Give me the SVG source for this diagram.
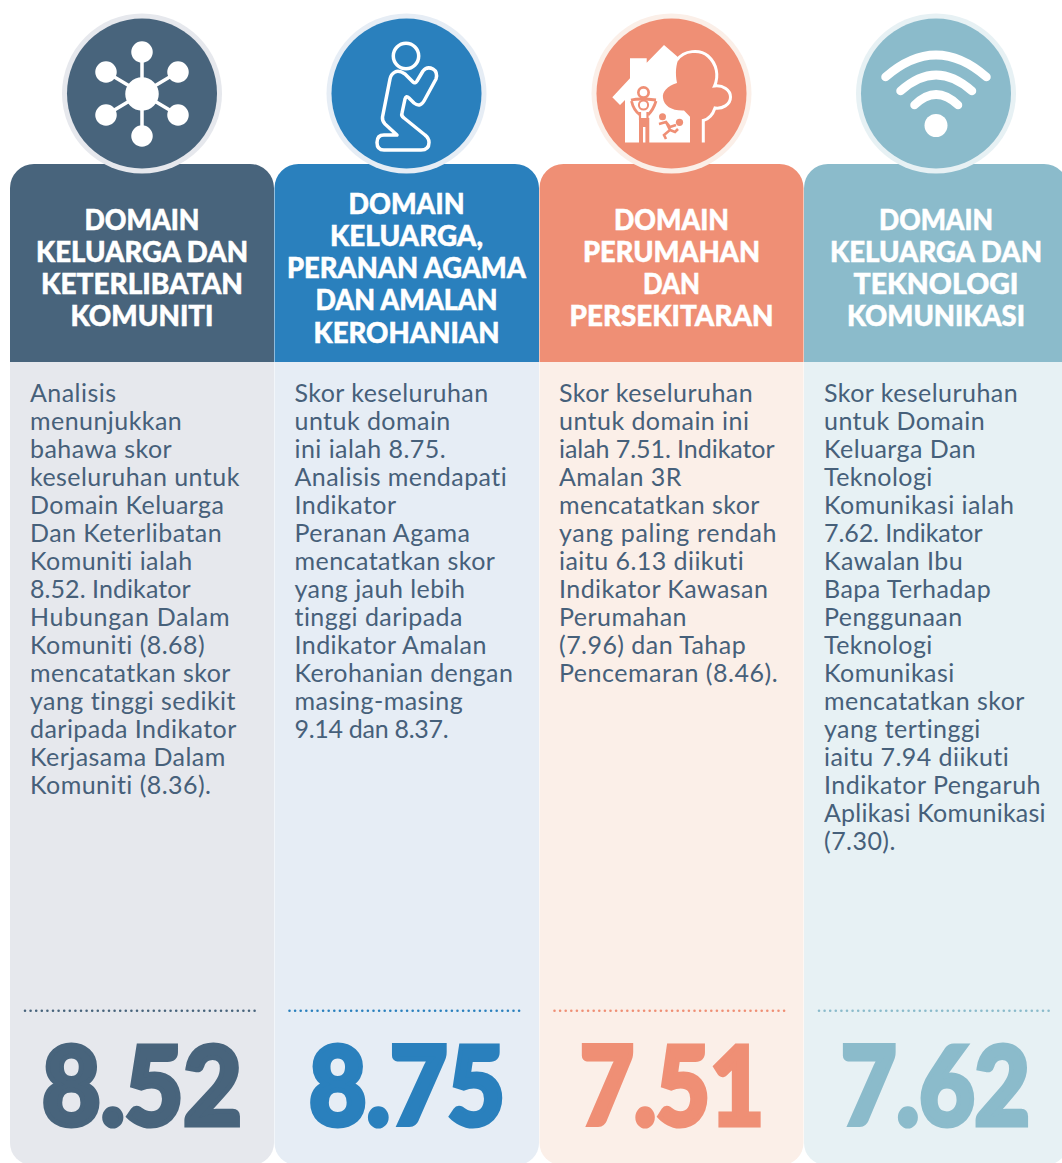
<svg xmlns="http://www.w3.org/2000/svg" width="1062" height="1163" viewBox="0 0 1062 1163">
<style>
.t{font-family:"Lato Black","Lato","Liberation Sans",sans-serif;font-weight:900;font-size:28px;fill:#fff;stroke:#fff;stroke-width:.5;text-anchor:middle}
.b{font-family:"Lato","Liberation Sans",sans-serif;font-weight:400;font-size:25px;letter-spacing:.45px;fill:#46607a}
.n{font-family:"Lato Black","Lato","Liberation Sans",sans-serif;font-weight:900;font-size:108px;stroke-width:5;stroke-linejoin:miter}
.d{fill:none;stroke-width:2.6;stroke-linecap:round;stroke-dasharray:0 5.6}
.w{fill:none;stroke:#fff;stroke-linecap:round}
</style>
<rect width="1062" height="1163" fill="#fff"/>
<g id="col1">
<rect x="10" y="300" width="264" height="865" rx="22" fill="#e6e8ed"/>
<path d="M10 362V188a24 24 0 0 1 24-24H250a24 24 0 0 1 24 24V362Z" fill="#48647c"/>
<circle cx="142" cy="93.500" r="80" fill="#e6e8ed"/><circle cx="142" cy="93.500" r="75" fill="#48647c"/>
<g fill="#fff" stroke="#fff" stroke-width="3.500">
<path d="M142 52V136M106 72L178 115M178 72L106 115" fill="none"/>
<circle cx="142" cy="94" r="15"/><circle cx="142" cy="52" r="9"/><circle cx="142" cy="136" r="9"/><circle cx="106" cy="72" r="9"/><circle cx="178" cy="72" r="9"/><circle cx="106" cy="115" r="9"/><circle cx="178" cy="115" r="9"/>
</g>
<text class="t" x="142" y="230" textLength="115" lengthAdjust="spacingAndGlyphs">DOMAIN</text>
<text class="t" x="142" y="262" textLength="212" lengthAdjust="spacingAndGlyphs">KELUARGA DAN</text>
<text class="t" x="142" y="294" textLength="202" lengthAdjust="spacingAndGlyphs">KETERLIBATAN</text>
<text class="t" x="142" y="326" textLength="143" lengthAdjust="spacingAndGlyphs">KOMUNITI</text>
<text class="b" x="30" y="402">Analisis</text><text class="b" x="30" y="430">menunjukkan</text><text class="b" x="30" y="458">bahawa skor</text><text class="b" x="30" y="486">keseluruhan untuk</text><text class="b" x="30" y="514">Domain Keluarga</text><text class="b" x="30" y="542">Dan Keterlibatan</text><text class="b" x="30" y="570">Komuniti ialah</text><text class="b" x="30" y="598" textLength="161">8.52. Indikator</text><text class="b" x="30" y="626" textLength="200">Hubungan Dalam</text><text class="b" x="30" y="654">Komuniti (8.68)</text><text class="b" x="30" y="682">mencatatkan skor</text><text class="b" x="30" y="710">yang tinggi sedikit</text><text class="b" x="30" y="738">daripada Indikator</text><text class="b" x="30" y="766">Kerjasama Dalam</text><text class="b" x="30" y="794">Komuniti (8.36).</text>
<path class="d" stroke="#48647c" d="M25 1010.700H257.500"/>
<text class="n" x="42" y="1125" fill="#48647c" stroke="#48647c" textLength="200" lengthAdjust="spacingAndGlyphs">8.52</text>
</g>
<g id="col2">
<rect x="274.500" y="300" width="264.500" height="865" rx="22" fill="#e6edf5"/>
<path d="M274.500 362V188a24 24 0 0 1 24-24H515a24 24 0 0 1 24 24V362Z" fill="#2a80bd"/>
<circle cx="406.500" cy="93.500" r="80" fill="#e6edf5"/><circle cx="406.500" cy="93.500" r="75" fill="#2a80bd"/>
<g class="w" stroke-width="3.500" stroke-linejoin="round">
<circle cx="406" cy="56" r="12.700"/>
<path d="M405 74Q399 70 395 72Q391 74 390 79L382.500 117Q382 121 385 124L397 135H384Q377 135 377 142.500Q377 150 384 150H421Q429 150 429 142.500Q429 138 425 135L404 118Q401 116 402 113L405 99Q406 95 409 98L414 103Q420 108 424 101L436 79Q438 72 433 69Q427 66 423 71L417 81Q415 84 413 82Z"/>
</g>
<text class="t" x="406.500" y="214" textLength="116" lengthAdjust="spacingAndGlyphs">DOMAIN</text>
<text class="t" x="406.500" y="246" textLength="153" lengthAdjust="spacingAndGlyphs">KELUARGA,</text>
<text class="t" x="406.500" y="278" textLength="239" lengthAdjust="spacingAndGlyphs">PERANAN AGAMA</text>
<text class="t" x="406.500" y="310" textLength="182" lengthAdjust="spacingAndGlyphs">DAN AMALAN</text>
<text class="t" x="406.500" y="343" textLength="186" lengthAdjust="spacingAndGlyphs">KEROHANIAN</text>
<text class="b" x="294.500" y="402">Skor keseluruhan</text><text class="b" x="294.500" y="430">untuk domain</text><text class="b" x="294.500" y="458">ini ialah 8.75.</text><text class="b" x="294.500" y="486">Analisis mendapati</text><text class="b" x="294.500" y="514">Indikator</text><text class="b" x="294.500" y="542">Peranan Agama</text><text class="b" x="294.500" y="570">mencatatkan skor</text><text class="b" x="294.500" y="598">yang jauh lebih</text><text class="b" x="294.500" y="626">tinggi daripada</text><text class="b" x="294.500" y="654">Indikator Amalan</text><text class="b" x="294.500" y="682">Kerohanian dengan</text><text class="b" x="294.500" y="710">masing-masing</text><text class="b" x="294.500" y="738" textLength="154.500">9.14 dan 8.37.</text>
<path class="d" stroke="#2a80bd" d="M289.500 1010.700H522"/>
<text class="n" x="309" y="1125" fill="#2a80bd" stroke="#2a80bd" textLength="196" lengthAdjust="spacingAndGlyphs">8.75</text>
</g>
<g id="col3">
<rect x="539.500" y="300" width="264" height="865" rx="22" fill="#fbefe8"/>
<path d="M539.500 362V188a24 24 0 0 1 24-24H779.500a24 24 0 0 1 24 24V362Z" fill="#ef8f75"/>
<circle cx="671.500" cy="93.500" r="80" fill="#fbefe8"/><circle cx="671.500" cy="93.500" r="75" fill="#ef8f75"/>
<path fill="#fff" d="M664 45L679 58C676 64 675 73 677 83C667 86 662 92 663 98C664 106 672 111 684 110.500L690 116.700V142.500H649.300V118H639V142.500H625V100L620 105L612.300 97.300L630 78.300V58.300H646.700V62.700Z"/>
<path fill="none" stroke="#fff" stroke-width="3" d="M677 60C684 50 700 49 708 56C717 64 719 76 714.500 86C723 85 730.500 90 730.500 97C730.500 105 722 109 715 108C713 114 709 119 703.300 120.500V142.500"/>
<rect x="643" y="127" width="2.400" height="15.500" fill="#fff"/>
<circle cx="643.500" cy="92.500" r="6.500" fill="#ef8f75"/><circle cx="643.500" cy="92.500" r="3.800" fill="#fff"/>
<path d="M631 100Q640 98 656 100M631.500 101C633 108 636 112 640 115M656 101C654 108 651 112 648 115" fill="none" stroke="#ef8f75" stroke-width="2.800"/>
<circle cx="643.500" cy="105" r="4.600" fill="#fff" stroke="#ef8f75" stroke-width="2"/>
<path d="M640 112V120M647.500 112V120" stroke="#ef8f75" stroke-width="2.200"/>
<circle cx="662.500" cy="116.700" r="3.500" fill="#ef8f75"/><circle cx="679.500" cy="122.300" r="3.600" fill="#ef8f75"/>
<path d="M659 124L666 122L670 127L676 125M666 122L670 130L664 135L666 139M670 130L675 132L678 129" fill="none" stroke="#ef8f75" stroke-width="2.600"/>
<text class="t" x="671.500" y="230" textLength="115" lengthAdjust="spacingAndGlyphs">DOMAIN</text>
<text class="t" x="671.500" y="262" textLength="177" lengthAdjust="spacingAndGlyphs">PERUMAHAN</text>
<text class="t" x="671.500" y="294" textLength="57" lengthAdjust="spacingAndGlyphs">DAN</text>
<text class="t" x="671.500" y="326" textLength="204" lengthAdjust="spacingAndGlyphs">PERSEKITARAN</text>
<text class="b" x="559" y="402">Skor keseluruhan</text><text class="b" x="559" y="430">untuk domain ini</text><text class="b" x="559" y="458" textLength="216">ialah 7.51. Indikator</text><text class="b" x="559" y="486">Amalan 3R</text><text class="b" x="559" y="514">mencatatkan skor</text><text class="b" x="559" y="542" textLength="218">yang paling rendah</text><text class="b" x="559" y="570">iaitu 6.13 diikuti</text><text class="b" x="559" y="598">Indikator Kawasan</text><text class="b" x="559" y="626">Perumahan</text><text class="b" x="559" y="654">(7.96) dan Tahap</text><text class="b" x="559" y="682" textLength="219">Pencemaran (8.46).</text>
<path class="d" stroke="#ef8f75" d="M554.500 1010.700H787"/>
<text class="n" x="580" y="1125" fill="#ef8f75" stroke="#ef8f75" textLength="184" lengthAdjust="spacingAndGlyphs">7.51</text>
</g>
<g id="col4">
<rect x="804" y="300" width="264" height="865" rx="22" fill="#e7f1f4"/>
<path d="M804 362V188a24 24 0 0 1 24-24H1044a24 24 0 0 1 24 24V362Z" fill="#8bbbcb"/>
<circle cx="936" cy="93.500" r="80" fill="#e7f1f4"/><circle cx="936" cy="93.500" r="75" fill="#8bbbcb"/>
<g class="w" stroke-width="8.500">
<path d="M885.500 77Q936 33 986.500 77"/><path d="M900.500 91Q936 59 972 91"/><path d="M914.500 105Q936 84 958 105"/>
</g>
<circle cx="936" cy="125.500" r="11.500" fill="#fff"/>
<text class="t" x="936" y="230" textLength="114" lengthAdjust="spacingAndGlyphs">DOMAIN</text>
<text class="t" x="936" y="262" textLength="212" lengthAdjust="spacingAndGlyphs">KELUARGA DAN</text>
<text class="t" x="936" y="294" textLength="165" lengthAdjust="spacingAndGlyphs">TEKNOLOGI</text>
<text class="t" x="936" y="326" textLength="178" lengthAdjust="spacingAndGlyphs">KOMUNIKASI</text>
<text class="b" x="824" y="402">Skor keseluruhan</text><text class="b" x="824" y="430">untuk Domain</text><text class="b" x="824" y="458">Keluarga Dan</text><text class="b" x="824" y="486">Teknologi</text><text class="b" x="824" y="514">Komunikasi ialah</text><text class="b" x="824" y="542" textLength="159">7.62. Indikator</text><text class="b" x="824" y="570">Kawalan Ibu</text><text class="b" x="824" y="598">Bapa Terhadap</text><text class="b" x="824" y="626">Penggunaan</text><text class="b" x="824" y="654">Teknologi</text><text class="b" x="824" y="682">Komunikasi</text><text class="b" x="824" y="710">mencatatkan skor</text><text class="b" x="824" y="738">yang tertinggi</text><text class="b" x="824" y="766">iaitu 7.94 diikuti</text><text class="b" x="824" y="794" textLength="217">Indikator Pengaruh</text><text class="b" x="824" y="822" textLength="222">Aplikasi Komunikasi</text><text class="b" x="824" y="850">(7.30).</text>
<path class="d" stroke="#8bbbcb" d="M819 1010.700H1051.500"/>
<text class="n" x="841" y="1125" fill="#8bbbcb" stroke="#8bbbcb" textLength="189" lengthAdjust="spacingAndGlyphs">7.62</text>
</g>
</svg>
